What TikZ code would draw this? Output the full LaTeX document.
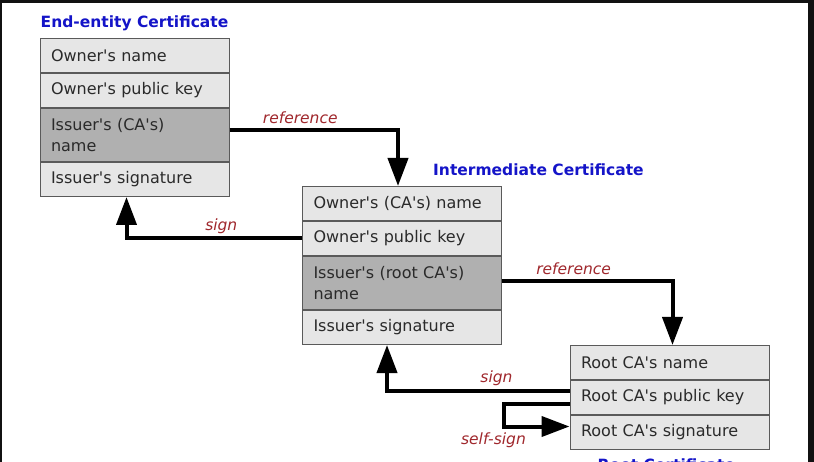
\documentclass[tikz,border=0pt]{standalone}
\usepackage{fontspec}
\setmainfont{DejaVu Sans}
\usetikzlibrary{positioning,arrows.meta}
\definecolor{cellfg}{HTML}{2A2A2A}
\definecolor{cellbg}{HTML}{E6E6E6}
\definecolor{issuerbg}{HTML}{B0B0B0}
\definecolor{cellline}{HTML}{5A5A5A}
\definecolor{titleblue}{HTML}{1414C8}
\definecolor{linkred}{HTML}{A0282D}
\definecolor{frame}{HTML}{111111}
\newcommand\ap{\textquotesingle}

\tikzset{
  row/.style={draw=cellline,line width=1pt,fill=cellbg,text=cellfg,
    inner xsep=11pt,inner ysep=0pt,minimum height=34pt,align=left,
    font=\fontsize{16}{21}\selectfont},
  issuer/.style={row,fill=issuerbg,minimum height=53pt},
  eerow/.style={text width=167pt},
  iirow/.style={text width=177pt},
  rrrow/.style={text width=177pt},
  certtitle/.style={text=titleblue,inner sep=0pt,font=\fontsize{15.5}{18}\selectfont\bfseries},
  link/.style={line width=4pt,-{Triangle[width=20pt,length=28pt]}},
  linklabel/.style={text=linkred,inner sep=3pt,font=\fontsize{15.5}{18}\selectfont\itshape}
}

\begin{document}
\begin{tikzpicture}[x=1pt,y=-1pt]
  \useasboundingbox (0,0) rectangle (814,462);
  \fill[frame] (0,0) rectangle (814,462);
  \fill[white] (2,3) rectangle (808,462);

  % end-entity certificate
  \node[row,eerow,anchor=north west] (ee1) at (39.5,38) {Owner\ap s name};
  \node[row,eerow,below=0pt of ee1] (ee2) {Owner\ap s public key};
  \node[issuer,eerow,below=0pt of ee2] (ee3) {Issuer\ap s (CA\ap s)\\name};
  \node[row,eerow,below=0pt of ee3] (ee4) {Issuer\ap s signature};
  \node[certtitle,above right=7pt and 1pt of ee1.north west] (eetitle) {End-entity Certificate};

  % intermediate certificate
  \node[row,iirow,anchor=north west] (ii1) at (302,186) {Owner\ap s (CA\ap s) name};
  \node[row,iirow,below=0pt of ii1] (ii2) {Owner\ap s public key};
  \node[issuer,iirow,below=0pt of ii2] (ii3) {Issuer\ap s (root CA\ap s)\\name};
  \node[row,iirow,below=0pt of ii3] (ii4) {Issuer\ap s signature};
  \node[certtitle,above right=10pt and 131pt of ii1.north west] (iititle) {Intermediate Certificate};

  % root certificate
  \node[row,rrrow,anchor=north west] (rr1) at (569.5,345) {Root CA\ap s name};
  \node[row,rrrow,below=0pt of rr1] (rr2) {Root CA\ap s public key};
  \node[row,rrrow,below=0pt of rr2] (rr3) {Root CA\ap s signature};
  \node[certtitle,below right=9pt and 28pt of rr3.south west] (rrtitle) {Root Certificate};

  % references and signatures
  \draw[link] ([yshift=5pt]ee3.east) -| ([xshift=-4pt]ii1.north)
    node[linklabel,pos=0.21,above=1pt] {reference};
  \draw[link] (ii2.west) -| ([xshift=-8pt]ee4.south)
    node[linklabel,pos=0.23,above] {sign};
  \draw[link] ([yshift=2pt]ii3.east) -| ([xshift=3pt]rr1.north)
    node[linklabel,pos=0.21,above=1pt] {reference};
  \draw[link] ([yshift=7pt]rr2.west) -| ([xshift=-15pt]ii4.south)
    node[linklabel,pos=0.2,above] {sign};
  \draw[link] ([yshift=-6pt]rr2.west) -- ++(-66,0) |- ([yshift=6pt]rr3.west)
    node[linklabel,pos=0.5,below=1pt,xshift=-10pt] {self-sign};
\end{tikzpicture}
\end{document}
